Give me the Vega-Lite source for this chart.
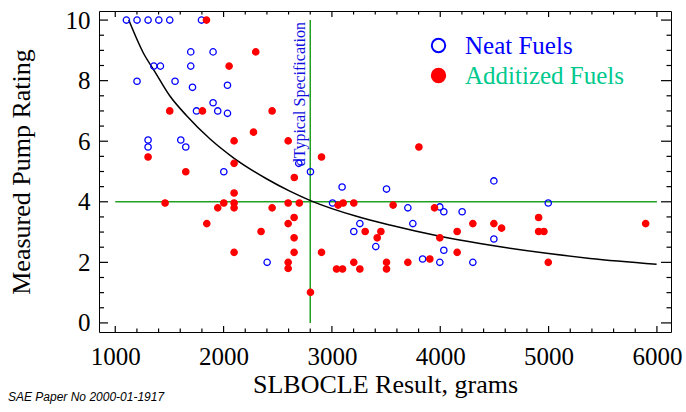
{
  "$schema": "https://vega.github.io/schema/vega-lite/v6.json",
  "width": 572,
  "height": 321,
  "autosize": {"type": "none"},
  "padding": {"left": 99, "top": 11, "right": 15, "bottom": 80},
  "background": "white",
  "title": {"text": "SAE Paper No 2000-01-1917", "orient": "bottom", "anchor": "start", "frame": "bounds", "offset": -5, "font": "Liberation Sans", "fontSize": 12, "fontStyle": "italic", "fontWeight": "normal", "color": "#000000"},
  "datasets": {
    "fuels": [
      {"slbocle": 1103, "rating": 10, "fuel": "Neat Fuels"},
      {"slbocle": 1201, "rating": 10, "fuel": "Neat Fuels"},
      {"slbocle": 1303, "rating": 10, "fuel": "Neat Fuels"},
      {"slbocle": 1402, "rating": 10, "fuel": "Neat Fuels"},
      {"slbocle": 1503, "rating": 10, "fuel": "Neat Fuels"},
      {"slbocle": 1796, "rating": 10, "fuel": "Neat Fuels"},
      {"slbocle": 1697, "rating": 8.95, "fuel": "Neat Fuels"},
      {"slbocle": 1903, "rating": 8.95, "fuel": "Neat Fuels"},
      {"slbocle": 1356, "rating": 8.48, "fuel": "Neat Fuels"},
      {"slbocle": 1417, "rating": 8.48, "fuel": "Neat Fuels"},
      {"slbocle": 1697, "rating": 8.48, "fuel": "Neat Fuels"},
      {"slbocle": 1201, "rating": 7.98, "fuel": "Neat Fuels"},
      {"slbocle": 1552, "rating": 7.98, "fuel": "Neat Fuels"},
      {"slbocle": 1713, "rating": 7.78, "fuel": "Neat Fuels"},
      {"slbocle": 2036, "rating": 7.85, "fuel": "Neat Fuels"},
      {"slbocle": 1903, "rating": 7.27, "fuel": "Neat Fuels"},
      {"slbocle": 1750, "rating": 7.0, "fuel": "Neat Fuels"},
      {"slbocle": 1946, "rating": 7.0, "fuel": "Neat Fuels"},
      {"slbocle": 2036, "rating": 6.92, "fuel": "Neat Fuels"},
      {"slbocle": 1303, "rating": 6.04, "fuel": "Neat Fuels"},
      {"slbocle": 1303, "rating": 5.81, "fuel": "Neat Fuels"},
      {"slbocle": 1605, "rating": 6.04, "fuel": "Neat Fuels"},
      {"slbocle": 1651, "rating": 5.81, "fuel": "Neat Fuels"},
      {"slbocle": 2002, "rating": 4.99, "fuel": "Neat Fuels"},
      {"slbocle": 2694, "rating": 5.27, "fuel": "Neat Fuels"},
      {"slbocle": 2802, "rating": 4.99, "fuel": "Neat Fuels"},
      {"slbocle": 2402, "rating": 2.0, "fuel": "Neat Fuels"},
      {"slbocle": 3094, "rating": 4.49, "fuel": "Neat Fuels"},
      {"slbocle": 3504, "rating": 4.42, "fuel": "Neat Fuels"},
      {"slbocle": 3006, "rating": 3.96, "fuel": "Neat Fuels"},
      {"slbocle": 3701, "rating": 3.8, "fuel": "Neat Fuels"},
      {"slbocle": 3996, "rating": 3.83, "fuel": "Neat Fuels"},
      {"slbocle": 4033, "rating": 3.67, "fuel": "Neat Fuels"},
      {"slbocle": 4202, "rating": 3.67, "fuel": "Neat Fuels"},
      {"slbocle": 3258, "rating": 3.28, "fuel": "Neat Fuels"},
      {"slbocle": 3747, "rating": 3.28, "fuel": "Neat Fuels"},
      {"slbocle": 3202, "rating": 3.02, "fuel": "Neat Fuels"},
      {"slbocle": 3405, "rating": 2.52, "fuel": "Neat Fuels"},
      {"slbocle": 4033, "rating": 2.4, "fuel": "Neat Fuels"},
      {"slbocle": 3837, "rating": 2.11, "fuel": "Neat Fuels"},
      {"slbocle": 3996, "rating": 2.0, "fuel": "Neat Fuels"},
      {"slbocle": 4301, "rating": 2.0, "fuel": "Neat Fuels"},
      {"slbocle": 4495, "rating": 4.69, "fuel": "Neat Fuels"},
      {"slbocle": 4997, "rating": 3.96, "fuel": "Neat Fuels"},
      {"slbocle": 4495, "rating": 2.77, "fuel": "Neat Fuels"},
      {"slbocle": 1842, "rating": 10, "fuel": "Additized Fuels"},
      {"slbocle": 2297, "rating": 8.95, "fuel": "Additized Fuels"},
      {"slbocle": 2051, "rating": 8.48, "fuel": "Additized Fuels"},
      {"slbocle": 1503, "rating": 7.0, "fuel": "Additized Fuels"},
      {"slbocle": 1805, "rating": 7.0, "fuel": "Additized Fuels"},
      {"slbocle": 2448, "rating": 7.0, "fuel": "Additized Fuels"},
      {"slbocle": 2276, "rating": 6.3, "fuel": "Additized Fuels"},
      {"slbocle": 2097, "rating": 6.01, "fuel": "Additized Fuels"},
      {"slbocle": 2596, "rating": 6.01, "fuel": "Additized Fuels"},
      {"slbocle": 1303, "rating": 5.48, "fuel": "Additized Fuels"},
      {"slbocle": 2097, "rating": 5.27, "fuel": "Additized Fuels"},
      {"slbocle": 1651, "rating": 4.99, "fuel": "Additized Fuels"},
      {"slbocle": 2904, "rating": 5.48, "fuel": "Additized Fuels"},
      {"slbocle": 3803, "rating": 5.81, "fuel": "Additized Fuels"},
      {"slbocle": 2653, "rating": 4.8, "fuel": "Additized Fuels"},
      {"slbocle": 2097, "rating": 4.29, "fuel": "Additized Fuels"},
      {"slbocle": 1460, "rating": 3.96, "fuel": "Additized Fuels"},
      {"slbocle": 2002, "rating": 3.96, "fuel": "Additized Fuels"},
      {"slbocle": 2097, "rating": 3.96, "fuel": "Additized Fuels"},
      {"slbocle": 1946, "rating": 3.8, "fuel": "Additized Fuels"},
      {"slbocle": 2097, "rating": 3.8, "fuel": "Additized Fuels"},
      {"slbocle": 2448, "rating": 3.8, "fuel": "Additized Fuels"},
      {"slbocle": 2596, "rating": 3.96, "fuel": "Additized Fuels"},
      {"slbocle": 2699, "rating": 3.96, "fuel": "Additized Fuels"},
      {"slbocle": 2651, "rating": 3.48, "fuel": "Additized Fuels"},
      {"slbocle": 2596, "rating": 3.28, "fuel": "Additized Fuels"},
      {"slbocle": 1845, "rating": 3.28, "fuel": "Additized Fuels"},
      {"slbocle": 2346, "rating": 3.02, "fuel": "Additized Fuels"},
      {"slbocle": 2651, "rating": 2.81, "fuel": "Additized Fuels"},
      {"slbocle": 2651, "rating": 2.33, "fuel": "Additized Fuels"},
      {"slbocle": 2097, "rating": 2.33, "fuel": "Additized Fuels"},
      {"slbocle": 2596, "rating": 2.0, "fuel": "Additized Fuels"},
      {"slbocle": 2596, "rating": 1.8, "fuel": "Additized Fuels"},
      {"slbocle": 3057, "rating": 3.89, "fuel": "Additized Fuels"},
      {"slbocle": 3104, "rating": 3.96, "fuel": "Additized Fuels"},
      {"slbocle": 3202, "rating": 3.96, "fuel": "Additized Fuels"},
      {"slbocle": 3565, "rating": 3.89, "fuel": "Additized Fuels"},
      {"slbocle": 3947, "rating": 3.8, "fuel": "Additized Fuels"},
      {"slbocle": 4301, "rating": 3.28, "fuel": "Additized Fuels"},
      {"slbocle": 3307, "rating": 3.02, "fuel": "Additized Fuels"},
      {"slbocle": 3452, "rating": 3.02, "fuel": "Additized Fuels"},
      {"slbocle": 3418, "rating": 2.81, "fuel": "Additized Fuels"},
      {"slbocle": 4156, "rating": 3.02, "fuel": "Additized Fuels"},
      {"slbocle": 3996, "rating": 2.81, "fuel": "Additized Fuels"},
      {"slbocle": 2904, "rating": 2.33, "fuel": "Additized Fuels"},
      {"slbocle": 4156, "rating": 2.33, "fuel": "Additized Fuels"},
      {"slbocle": 3202, "rating": 2.0, "fuel": "Additized Fuels"},
      {"slbocle": 3504, "rating": 2.0, "fuel": "Additized Fuels"},
      {"slbocle": 3701, "rating": 2.0, "fuel": "Additized Fuels"},
      {"slbocle": 3904, "rating": 2.11, "fuel": "Additized Fuels"},
      {"slbocle": 3043, "rating": 1.78, "fuel": "Additized Fuels"},
      {"slbocle": 3098, "rating": 1.78, "fuel": "Additized Fuels"},
      {"slbocle": 3258, "rating": 1.78, "fuel": "Additized Fuels"},
      {"slbocle": 3504, "rating": 1.78, "fuel": "Additized Fuels"},
      {"slbocle": 2802, "rating": 1.01, "fuel": "Additized Fuels"},
      {"slbocle": 4495, "rating": 3.28, "fuel": "Additized Fuels"},
      {"slbocle": 4566, "rating": 3.13, "fuel": "Additized Fuels"},
      {"slbocle": 4908, "rating": 3.48, "fuel": "Additized Fuels"},
      {"slbocle": 4908, "rating": 3.02, "fuel": "Additized Fuels"},
      {"slbocle": 4957, "rating": 3.02, "fuel": "Additized Fuels"},
      {"slbocle": 4997, "rating": 2.0, "fuel": "Additized Fuels"},
      {"slbocle": 5896, "rating": 3.28, "fuel": "Additized Fuels"}
    ],
    "curve": [
      {"slbocle": 1125, "rating": 10.0},
      {"slbocle": 1257, "rating": 8.93},
      {"slbocle": 1365, "rating": 8.3},
      {"slbocle": 1503, "rating": 7.5},
      {"slbocle": 1657, "rating": 6.85},
      {"slbocle": 1873, "rating": 6.08},
      {"slbocle": 2088, "rating": 5.46},
      {"slbocle": 2396, "rating": 4.76},
      {"slbocle": 2611, "rating": 4.35},
      {"slbocle": 2802, "rating": 4.04},
      {"slbocle": 3227, "rating": 3.52},
      {"slbocle": 3535, "rating": 3.23},
      {"slbocle": 3996, "rating": 2.86},
      {"slbocle": 4366, "rating": 2.62},
      {"slbocle": 4982, "rating": 2.3},
      {"slbocle": 5382, "rating": 2.13},
      {"slbocle": 5997, "rating": 1.94}
    ],
    "hline": [{"slbocle": 1000, "slbocle2": 6000, "rating": 4}],
    "vline": [{"slbocle": 2800, "rating": 0, "rating2": 10}],
    "note": [{"slbocle": 2800, "rating": 10, "label": "dTypical Specification"}],
    "xmajor": [{"slbocle": 1000}, {"slbocle": 2000}, {"slbocle": 3000}, {"slbocle": 4000}, {"slbocle": 5000}, {"slbocle": 6000}],
    "xminor": [{"slbocle": 1200}, {"slbocle": 1400}, {"slbocle": 1600}, {"slbocle": 1800}, {"slbocle": 2200}, {"slbocle": 2400}, {"slbocle": 2600}, {"slbocle": 2800}, {"slbocle": 3200}, {"slbocle": 3400}, {"slbocle": 3600}, {"slbocle": 3800}, {"slbocle": 4200}, {"slbocle": 4400}, {"slbocle": 4600}, {"slbocle": 4800}, {"slbocle": 5200}, {"slbocle": 5400}, {"slbocle": 5600}, {"slbocle": 5800}],
    "ymajor": [{"rating": 0}, {"rating": 2}, {"rating": 4}, {"rating": 6}, {"rating": 8}, {"rating": 10}],
    "yminor": [{"rating": 0.5}, {"rating": 1}, {"rating": 1.5}, {"rating": 2.5}, {"rating": 3}, {"rating": 3.5}, {"rating": 4.5}, {"rating": 5}, {"rating": 5.5}, {"rating": 6.5}, {"rating": 7}, {"rating": 7.5}, {"rating": 8.5}, {"rating": 9}, {"rating": 9.5}]
  },
  "layer": [
    {
      "data": {"name": "hline"},
      "mark": {"type": "rule", "color": "#22a022", "strokeWidth": 1.5},
      "encoding": {
        "x": {"field": "slbocle", "type": "quantitative", "scale": {"domain": [850, 6130], "nice": false, "zero": false},
              "axis": {"orient": "bottom", "values": [1000, 2000, 3000, 4000, 5000, 6000], "format": "d", "ticks": false, "tickSize": 0, "labelPadding": 12, "title": "SLBOCLE Result, grams", "titlePadding": 2}},
        "x2": {"field": "slbocle2"},
        "y": {"field": "rating", "type": "quantitative", "scale": {"domain": [-0.3, 10.3], "nice": false, "zero": false},
              "axis": {"orient": "left", "values": [0, 2, 4, 6, 8, 10], "ticks": false, "tickSize": 0, "labelPadding": 9, "title": "Measured Pump Rating", "titlePadding": 31}}
      }
    },
    {
      "data": {"name": "vline"},
      "mark": {"type": "rule", "color": "#22a022", "strokeWidth": 1.5},
      "encoding": {
        "x": {"field": "slbocle", "type": "quantitative"},
        "y": {"field": "rating", "type": "quantitative"},
        "y2": {"field": "rating2"}
      }
    },
    {
      "data": {"name": "xmajor"},
      "mark": {"type": "tick", "orient": "vertical", "clip": true, "size": 12, "thickness": 1.2, "color": "#000000", "opacity": 1},
      "encoding": {"x": {"field": "slbocle", "type": "quantitative"}, "y": {"datum": -0.3}}
    },
    {
      "data": {"name": "xmajor"},
      "mark": {"type": "tick", "orient": "vertical", "clip": true, "size": 12, "thickness": 1.2, "color": "#000000", "opacity": 1},
      "encoding": {"x": {"field": "slbocle", "type": "quantitative"}, "y": {"datum": 10.3}}
    },
    {
      "data": {"name": "xminor"},
      "mark": {"type": "tick", "orient": "vertical", "clip": true, "size": 7, "thickness": 1.2, "color": "#000000", "opacity": 1},
      "encoding": {"x": {"field": "slbocle", "type": "quantitative"}, "y": {"datum": -0.3}}
    },
    {
      "data": {"name": "xminor"},
      "mark": {"type": "tick", "orient": "vertical", "clip": true, "size": 7, "thickness": 1.2, "color": "#000000", "opacity": 1},
      "encoding": {"x": {"field": "slbocle", "type": "quantitative"}, "y": {"datum": 10.3}}
    },
    {
      "data": {"name": "ymajor"},
      "mark": {"type": "tick", "orient": "horizontal", "clip": true, "size": 18, "thickness": 1.2, "color": "#000000", "opacity": 1},
      "encoding": {"y": {"field": "rating", "type": "quantitative"}, "x": {"datum": 850}}
    },
    {
      "data": {"name": "ymajor"},
      "mark": {"type": "tick", "orient": "horizontal", "clip": true, "size": 20, "thickness": 1.2, "color": "#000000", "opacity": 1},
      "encoding": {"y": {"field": "rating", "type": "quantitative"}, "x": {"datum": 6130}}
    },
    {
      "data": {"name": "yminor"},
      "mark": {"type": "tick", "orient": "horizontal", "clip": true, "size": 10, "thickness": 1.2, "color": "#000000", "opacity": 1},
      "encoding": {"y": {"field": "rating", "type": "quantitative"}, "x": {"datum": 850}}
    },
    {
      "data": {"name": "yminor"},
      "mark": {"type": "tick", "orient": "horizontal", "clip": true, "size": 9, "thickness": 1.2, "color": "#000000", "opacity": 1},
      "encoding": {"y": {"field": "rating", "type": "quantitative"}, "x": {"datum": 6130}}
    },
    {
      "data": {"name": "curve"},
      "mark": {"type": "line", "color": "#000000", "strokeWidth": 1.5, "interpolate": "monotone"},
      "encoding": {
        "x": {"field": "slbocle", "type": "quantitative"},
        "y": {"field": "rating", "type": "quantitative"}
      }
    },
    {
      "data": {"name": "note"},
      "mark": {"type": "text", "angle": 270, "align": "right", "baseline": "alphabetic", "dx": -2, "dy": -5, "font": "Liberation Serif", "fontSize": 16, "color": "#1010e0"},
      "encoding": {
        "x": {"field": "slbocle", "type": "quantitative"},
        "y": {"field": "rating", "type": "quantitative"},
        "text": {"field": "label"}
      }
    },
    {
      "data": {"name": "fuels"},
      "mark": {"type": "point", "shape": "circle", "strokeWidth": 1.3, "size": 40, "opacity": 1},
      "encoding": {
        "x": {"field": "slbocle", "type": "quantitative"},
        "y": {"field": "rating", "type": "quantitative"},
        "stroke": {"field": "fuel", "type": "nominal", "scale": {"domain": ["Neat Fuels", "Additized Fuels"], "range": ["#0000ff", "#ff0000"]},
                   "legend": {"title": null, "orient": "none", "legendX": 327, "legendY": 22, "padding": 0, "labelFont": "Liberation Serif", "labelFontSize": 25, "labelLimit": 400, "rowPadding": 4, "labelOffset": 14, "symbolType": "circle", "symbolSize": 180, "symbolStrokeWidth": 2,
                              "encoding": {"labels": {"fill": {"condition": {"test": "datum.label === 'Neat Fuels'", "value": "#0000ff"}, "value": "#00c98d"}}}}},
        "fill": {"field": "fuel", "type": "nominal", "scale": {"domain": ["Neat Fuels", "Additized Fuels"], "range": ["transparent", "#ff0000"]}}
      }
    }
  ],
  "config": {
    "view": {"stroke": "#000000", "strokeWidth": 1},
    "axis": {"domain": false, "grid": false, "labelFont": "Liberation Serif", "labelFontSize": 25, "labelColor": "#000000", "labelFlush": false, "titleFont": "Liberation Serif", "titleFontSize": 26, "titleFontWeight": "normal", "titleColor": "#000000"}
  }
}
